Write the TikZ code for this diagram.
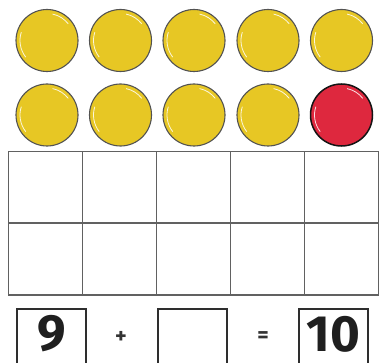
\documentclass[tikz,border=0pt]{standalone}
\usepackage{fontspec}
\setmainfont{Fira Sans}
\definecolor{counteryellow}{RGB}{231,199,36}
\definecolor{counterred}{RGB}{222,40,62}
\begin{document}
\begin{tikzpicture}[x=1pt, y=1pt,
  % Node styles
  counter/.style={circle, draw=black!68, fill=counteryellow, line width=1.1pt,
    minimum size=62pt, inner sep=0pt},
  redcounter/.style={counter, draw=black!92, fill=counterred, line width=1.5pt},
  shine/.style={draw=white, line width=0.8pt, opacity=0.85},
  gridline/.style={draw=black!62, line width=1.8pt},
  ansbox/.style={rectangle, draw=black!82, line width=1.4pt, minimum width=69pt,
    minimum height=56pt, inner sep=0pt},
  numtext/.style={font=\fontsize{51}{51}\selectfont\bfseries, text=black!88, inner sep=0pt},
  optext/.style={font=\fontsize{22}{22}\selectfont\bfseries, text=black!80, inner sep=0pt},
]
\useasboundingbox (0,0) rectangle (380,362);

% === Counters: top row (yellow) ===
\node[counter] (t1) at (47,321.5) {};
\node[counter] (t2) at (120.5,321.5) {};
\node[counter] (t3) at (194,321.5) {};
\node[counter] (t4) at (268,321.5) {};
\node[counter] (t5) at (341.5,321.5) {};

% === Counters: second row (four yellow, one red) ===
\node[counter] (s1) at (47,247) {};
\node[counter] (s2) at (120.5,247) {};
\node[counter] (s3) at (194,247) {};
\node[counter] (s4) at (268,247) {};
\node[redcounter] (s5) at (341.5,247) {};

% Highlights on the counters
\foreach \c in {t1,t2,t3,t4,t5,s1,s2,s3,s4,s5} {
  \draw[shine] ([shift={(38:27)}]\c.center) arc (38:78:27);
  \draw[shine] ([shift={(162:27)}]\c.center) arc (162:218:27);
}

% === Ten frame grid (two rows of five) ===
\draw[gridline] (8.5,67) rectangle (378.5,210.5);
\draw[gridline] (8.5,139) -- (378.5,139);
\foreach \x in {82.5,156.5,230.5,304.5}
  \draw[gridline] (\x,67) -- (\x,210.5);

% === Number sentence: 9 + [ ] = 10 ===
\node[ansbox] (b1) at (51.5,25) {};
\node[ansbox] (b2) at (192.5,25) {};
\node[ansbox] (b3) at (333.5,25) {};
\node[numtext] (n1) at (51.5,28) {9};
\node[numtext] (n3) at (333.5,28) {10};
\node[optext] (plus) at (121,25) {+};
\node[optext] (eq) at (263,25) {=};

\end{tikzpicture}
\end{document}
